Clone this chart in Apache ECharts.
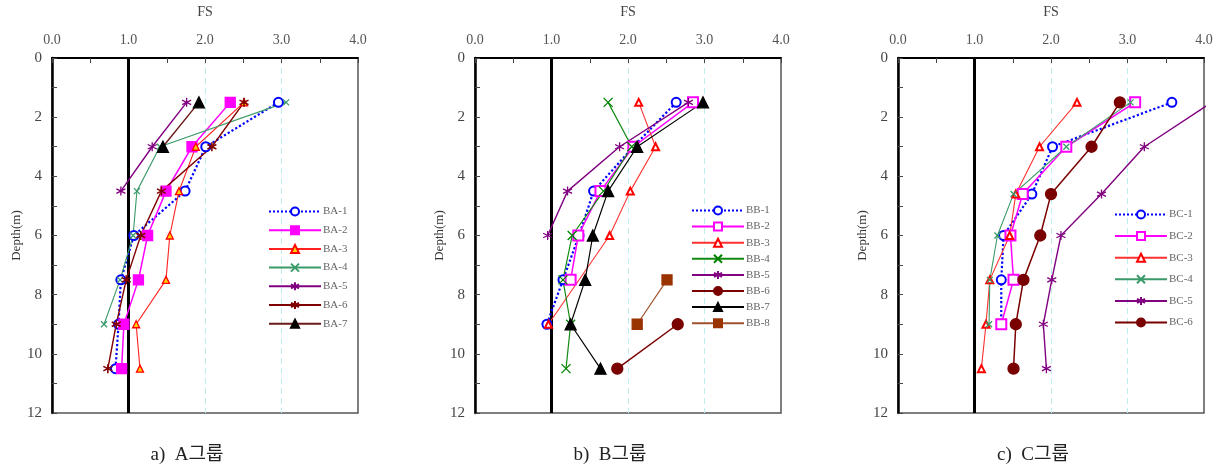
<!DOCTYPE html>
<html>
<head>
<meta charset="utf-8">
<script src="https://cdn.jsdelivr.net/npm/echarts@6/dist/echarts.min.js"></script>
<style>
  html, body { margin: 0; padding: 0; background: #fff; }
  #chart { width: 1225px; height: 469px; }
</style>
</head>
<body>
<div id="chart"></div>
<script>
// depths (m) for each group
var depthsA = [1.5, 3, 4.5, 6, 7.5, 9, 10.5];
var depthsB = [1.5, 3, 4.5, 6, 7.5, 9, 10.5];
var depthsC = [1.5, 3, 4.6, 6, 7.5, 9, 10.5];

// FS values, A group
var BA1 = [2.96, 2.01, 1.74, 1.07, 0.90, 0.87, 0.83];
var BA2 = [2.33, 1.83, 1.49, 1.25, 1.13, 0.94, 0.91];
var BA3 = [2.51, 1.88, 1.66, 1.54, 1.49, 1.10, 1.15];
var BA4 = [3.06, 1.41, 1.11, 1.06, 0.89, 0.68, null];
var BA5 = [1.76, 1.31, 0.90, null, null, null, null];
var BA6 = [2.51, 2.09, 1.43, 1.16, 0.97, 0.84, 0.73];
var BA7 = [1.92, 1.45, null, null, null, null, null];

// B group
var BB1 = [2.63, 2.07, 1.55, 1.36, 1.15, 0.94, null];
var BB2 = [2.85, 2.07, 1.64, 1.35, 1.25, null, null];
var BB3 = [2.14, 2.36, 2.03, 1.76, null, 0.96, null];
var BB4 = [1.74, 2.05, 1.68, 1.27, 1.15, 1.25, 1.19];
var BB5 = [2.79, 1.89, 1.21, 0.95, null, null, null];
var BB6 = [null, null, null, null, null, 2.65, 1.86];
var BB7 = [2.98, 2.12, 1.74, 1.54, 1.44, 1.25, 1.64];
var BB8 = [null, null, null, null, 2.51, 2.12, null];

// C group
var BC1 = [3.58, 2.02, 1.75, 1.38, 1.35, 1.35, null];
var BC2 = [3.10, 2.20, 1.63, 1.47, 1.51, 1.35, null];
var BC3 = [2.34, 1.85, 1.54, 1.46, 1.20, 1.15, 1.09];
var BC4 = [3.04, 2.20, 1.51, 1.30, 1.20, 1.19, null];
var BC5 = [4.10, 3.22, 2.66, 2.13, 2.01, 1.90, 1.94];
var BC6 = [2.90, 2.53, 2.00, 1.86, 1.64, 1.54, 1.51];

var fsTicks = ['0.0', '1.0', '2.0', '3.0', '4.0'];
var captions = ['a)  A그룹', 'b)  B그룹', 'c)  C그룹'];

var serif = '"Liberation Serif", "DejaVu Serif", "Noto Sans CJK KR", serif';

var myChart = echarts.init(document.getElementById('chart'));

function pairs(vals, depths) {
    var out = [];
    vals.forEach(function (v, i) {
        if (v != null) out.push([v, depths[i]]);
    });
    return out;
}

// marker shapes
var xMark = 'path://M0,0L10,10M10,0L0,10';
var starMark = 'path://M5,0L5,10M0.7,2.5L9.3,7.5M9.3,2.5L0.7,7.5';

function mk(name, idx, vals, depths, st) {
    return {
        name: name,
        type: 'line',
        xAxisIndex: idx,
        yAxisIndex: idx,
        data: pairs(vals, depths),
        symbol: st.symbol,
        symbolSize: st.size,
        z: 3,
        lineStyle: { color: st.line, width: st.width || 1.2, type: st.type || 'solid' },
        itemStyle: {
            color: st.fill || st.color,
            borderColor: st.color,
            borderWidth: st.bw || 1.3
        }
    };
}

var blueDot = { symbol: 'emptyCircle', size: 9, color: '#0000ff', line: '#0000ff', width: 2.2, type: 'dotted', bw: 1.5 };
var magFill = { symbol: 'rect', size: 10, color: '#ff00ff', line: '#ff00ff', width: 1.5 };
var magEmpty = { symbol: 'emptyRect', size: 10, color: '#ff00ff', line: '#ff00ff', width: 1.5 };
var redTriY = { symbol: 'triangle', size: 7, color: '#ff0000', fill: '#ffd000', line: '#ff2020', width: 1.1 };
var redTri = { symbol: 'emptyTriangle', size: 7, color: '#ff0000', line: '#ff3030', width: 1.1 };
var greenX = { symbol: xMark, size: 6, color: '#3a9a68', line: '#3a9a68', width: 1.1 };
var greenXB = { symbol: xMark, size: 9, color: '#008000', line: '#108a10', width: 1.2 };
var purpleS = { symbol: starMark, size: 9, color: '#800080', line: '#800080', width: 1.4 };
var darkRedS = { symbol: starMark, size: 9, color: '#800000', line: '#800000', width: 1.4, bw: 1.6 };
var blackTriA = { symbol: 'triangle', size: 11, color: '#000', line: '#6b1a1a', width: 1.4 };
var darkRedC = { symbol: 'circle', size: 11, color: '#7a0000', line: '#7a0000', width: 1.5 };
var blackTri = { symbol: 'triangle', size: 11, color: '#000', line: '#000', width: 1.2 };
var brownSq = { symbol: 'rect', size: 10, color: '#993300', line: '#a0522d', width: 1.2 };

var series = [
    mk('BA-1', 0, BA1, depthsA, blueDot),
    mk('BA-2', 0, BA2, depthsA, magFill),
    mk('BA-3', 0, BA3, depthsA, redTriY),
    mk('BA-4', 0, BA4, depthsA, greenX),
    mk('BA-5', 0, BA5, depthsA, purpleS),
    mk('BA-6', 0, BA6, depthsA, darkRedS),
    mk('BA-7', 0, BA7, depthsA, blackTriA),

    mk('BB-1', 1, BB1, depthsB, blueDot),
    mk('BB-2', 1, BB2, depthsB, magEmpty),
    mk('BB-3', 1, BB3, depthsB, redTri),
    mk('BB-4', 1, BB4, depthsB, greenXB),
    mk('BB-5', 1, BB5, depthsB, purpleS),
    mk('BB-6', 1, BB6, depthsB, darkRedC),
    mk('BB-7', 1, BB7, depthsB, blackTri),
    mk('BB-8', 1, BB8, depthsB, brownSq),

    mk('BC-1', 2, BC1, depthsC, blueDot),
    mk('BC-2', 2, BC2, depthsC, magEmpty),
    mk('BC-3', 2, BC3, depthsC, redTri),
    mk('BC-4', 2, BC4, depthsC, greenX),
    mk('BC-5', 2, BC5, depthsC, purpleS),
    mk('BC-6', 2, BC6, depthsC, darkRedC)
];

// FS = 1.0 reference line in each panel
[0, 1, 2].forEach(function (i) {
    series.push({
        type: 'line', xAxisIndex: i, yAxisIndex: i, silent: true,
        data: [[1, 0], [1, 12]], symbol: 'none', z: 2,
        lineStyle: { color: '#000', width: 3 }
    });
});

var clear = 'rgba(0,0,0,0)';
var lefts = [52, 475, 898];
var grids = [], xAxes = [], yAxes = [], graphics = [];
lefts.forEach(function (l, i) {
    grids.push({ left: l, top: 54, width: 306, height: 359, show: true, borderColor: '#555', borderWidth: 1.5 });
    xAxes.push({
        gridIndex: i, type: 'value', position: 'top', min: 0, max: 4, interval: 1,
        name: 'FS', nameLocation: 'middle', nameGap: 39,
        nameTextStyle: { fontFamily: serif, fontSize: 14, color: '#444' },
        axisLine: { lineStyle: { color: '#000', width: 2 } },
        axisTick: { inside: true, length: 5, lineStyle: { color: '#444' } },
        minorTick: { show: true, splitNumber: 2, length: 5, lineStyle: { color: '#444' } },
        axisLabel: {
            fontFamily: serif, fontSize: 14, color: '#555', margin: 11,
            formatter: function (v) { return fsTicks[Math.round(v)]; }
        },
        splitLine: {
            show: true,
            lineStyle: { color: [clear, '#bdeeee', '#bdeeee', '#bdeeee', clear], type: [6, 4], width: 1 }
        }
    });
    yAxes.push({
        gridIndex: i, type: 'value', inverse: true, min: 0, max: 12, interval: 2,
        name: 'Depth(m)', nameLocation: 'middle', nameGap: 28, nameRotate: 90,
        nameTextStyle: { fontFamily: serif, fontSize: 13, color: '#333' },
        axisLine: { lineStyle: { color: '#000', width: 2.5 } },
        axisTick: { inside: true, length: 5, lineStyle: { color: '#444' } },
        minorTick: { show: true, splitNumber: 2, length: 5, lineStyle: { color: '#444' } },
        axisLabel: { fontFamily: serif, fontSize: 15, color: '#444', margin: 10 },
        splitLine: { show: false }
    });
    graphics.push({
        type: 'text', x: l + 135, y: 455,
        style: { text: captions[i], font: '19px ' + serif, fill: '#222', align: 'center', verticalAlign: 'middle' }
    });
});

function legendFor(names, left, top, gap) {
    return {
        data: names, orient: 'vertical', left: left, top: top, padding: 0,
        itemWidth: 52, itemHeight: 10, itemGap: gap, selectedMode: false,
        textStyle: { fontFamily: serif, fontSize: 11, color: '#666', padding: [0, 0, 0, -3] }
    };
}

option = {
    backgroundColor: '#fff',
    animation: false,
    grid: grids,
    xAxis: xAxes,
    yAxis: yAxes,
    legend: [
        legendFor(['BA-1', 'BA-2', 'BA-3', 'BA-4', 'BA-5', 'BA-6', 'BA-7'], 268, 206, 7.7),
        legendFor(['BB-1', 'BB-2', 'BB-3', 'BB-4', 'BB-5', 'BB-6', 'BB-7', 'BB-8'], 691, 205, 5.1),
        legendFor(['BC-1', 'BC-2', 'BC-3', 'BC-4', 'BC-5', 'BC-6'], 1114, 209, 10.6)
    ],
    graphic: graphics,
    series: series
};

myChart.setOption(option);
</script>
</body>
</html>
